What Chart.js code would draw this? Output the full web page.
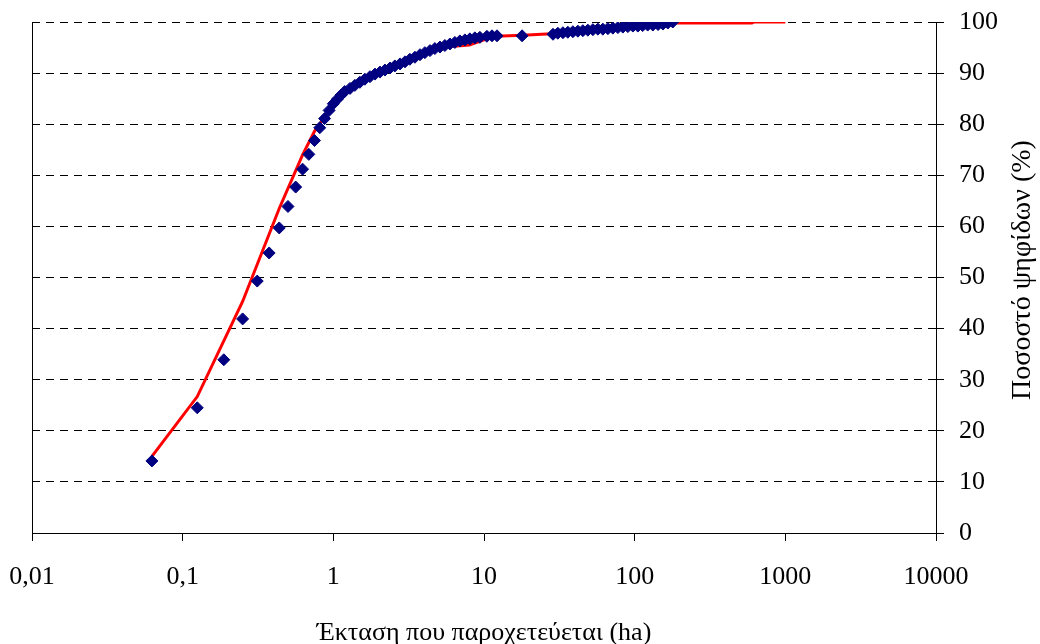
<!DOCTYPE html>
<html>
<head>
<meta charset="utf-8">
<script src="https://cdn.jsdelivr.net/npm/chart.js@4.4.0/dist/chart.umd.min.js"></script>
<style>
    body { margin: 0; background: #fff; }
    #wrap { width: 1040px; height: 644px; }
</style>
</head>
<body>
<div id="wrap"><canvas id="myChart" width="1040" height="644"></canvas></div>
<script>
// Measured points (blue diamonds): area in ha vs cumulative percent
const pointArea = [
    0.0625, 0.125, 0.1875, 0.25, 0.3125, 0.375, 0.4375, 0.5, 0.5625, 0.625,
    0.6875, 0.75, 0.8125, 0.875, 0.9375, 1.0, 1.0625, 1.125, 1.19, 1.29,
    1.39, 1.5, 1.62, 1.75, 1.89, 2.04, 2.2, 2.38, 2.56, 2.77,
    2.99, 3.22, 3.48, 3.76, 4.05, 4.38, 4.72, 5.1, 5.5, 5.94,
    6.41, 6.92, 7.47, 8.06, 8.7, 9.39, 10.45, 11.3, 12.2, 17.9,
    28.7, 30.9, 33.4, 36.0, 38.9, 42.0, 45.3, 48.9, 52.8, 57.0,
    61.5, 66.4, 71.7, 77.4, 83.5, 90.1, 97.3, 105, 113, 122,
    132, 143, 154, 166, 179
];
const pointPercent = [
    14.1, 24.5, 33.9, 41.9, 49.3, 54.8, 59.7, 63.9, 67.7, 71.2,
    74.1, 76.8, 79.3, 81.1, 82.7, 84.0, 84.9, 85.7, 86.4, 87.0,
    87.6, 88.2, 88.8, 89.3, 89.8, 90.2, 90.6, 91.0, 91.4, 91.8,
    92.2, 92.7, 93.1, 93.6, 94.0, 94.4, 94.8, 95.1, 95.4, 95.7,
    96.0, 96.3, 96.5, 96.7, 96.9, 97.0, 97.2, 97.3, 97.3, 97.3,
    97.6, 97.8, 97.9, 98.0, 98.1, 98.2, 98.3, 98.4, 98.5, 98.6,
    98.6, 98.7, 98.8, 98.9, 99.0, 99.1, 99.2, 99.2, 99.3, 99.4,
    99.4, 99.5, 99.6, 99.8, 100.0
];

// Red curve
const lineArea = [0.0625, 0.125, 0.25, 0.4375, 0.625, 0.75, 0.875, 1, 1.25, 1.5,
    2, 2.5, 3, 4, 5, 6, 8, 10, 12, 18, 28, 50, 100, 180, 600, 620, 1000];
const linePercent = [15.0, 26.7, 45.3, 63.5, 74.0, 78.6, 81.4, 83.8, 86.6, 88.0,
    90.0, 91.2, 92.1, 93.8, 94.8, 95.2, 95.5, 96.5, 97.2, 97.4, 97.7, 98.3, 99.0, 99.8, 99.8, 100, 100];

const xTickValues = [0.01, 0.1, 1, 10, 100, 1000, 10000];
const xTickLabels = ['0,01', '0,1', '1', '10', '100', '1000', '10000'];

const xTitle = 'Έκταση που παροχετεύεται (ha)';
const yTitle = 'Ποσοστό ψηφίδων (%)';

const FONT = '"Liberation Serif", "Times New Roman", serif';

// y title reads bottom-to-top, Chart.js right-axis titles read the other way
const yTitlePlugin = {
    id: 'yTitle',
    afterDraw(chart) {
        const ctx = chart.ctx;
        ctx.save();
        ctx.translate(1023, 270);
        ctx.rotate(-Math.PI / 2);
        ctx.font = '28px ' + FONT;
        ctx.fillStyle = '#000';
        ctx.textAlign = 'center';
        ctx.textBaseline = 'middle';
        ctx.fillText(yTitle, 0, 0);
        ctx.restore();
    }
};

// stop tick label overflow from pushing the plot area in
function noPadding(scale) {
    scale.paddingLeft = 0;
    scale.paddingRight = 0;
    scale.paddingTop = 0;
    scale.paddingBottom = 0;
}

const ctx = document.getElementById('myChart').getContext('2d');
new Chart(ctx, {
    type: 'scatter',
    data: {
        datasets: [{
            label: 'points',
            data: pointArea.map((a, i) => ({ x: a, y: pointPercent[i] })),
            showLine: false,
            pointStyle: 'rectRot',
            pointRadius: 6,
            pointBorderWidth: 1,
            pointBackgroundColor: '#000080',
            pointBorderColor: '#000080'
        }, {
            label: 'curve',
            data: lineArea.map((a, i) => ({ x: a, y: linePercent[i] })),
            showLine: true,
            borderColor: '#ff0000',
            borderWidth: 3,
            pointRadius: 0,
            tension: 0
        }]
    },
    options: {
        responsive: false,
        animation: false,
        devicePixelRatio: 1,
        layout: { padding: { left: 32, top: 22, right: 0, bottom: 0 } },
        plugins: {
            legend: { display: false },
            tooltip: { enabled: false }
        },
        scales: {
            x: {
                type: 'logarithmic',
                min: 0.01,
                max: 10000,
                afterBuildTicks: scale => {
                    scale.ticks = xTickValues.map(v => ({ value: v }));
                },
                afterFit: scale => {
                    scale.height = 111;
                    noPadding(scale);
                },
                ticks: {
                    autoSkip: false,
                    maxRotation: 0,
                    padding: 21,
                    color: '#000',
                    font: { family: FONT, size: 26 },
                    callback: (value) => {
                        const i = xTickValues.indexOf(value);
                        return i >= 0 ? xTickLabels[i] : '';
                    }
                },
                grid: {
                    color: c => (c.tick && c.tick.value === 0.01) ? '#000' : 'rgba(0,0,0,0)',
                    tickColor: '#000',
                    tickLength: 8,
                    lineWidth: 1
                },
                border: { display: true, color: '#000', width: 1 },
                title: {
                    display: true,
                    text: xTitle,
                    color: '#000',
                    font: { family: FONT, size: 26 },
                    padding: { top: 0, bottom: -5 }
                }
            },
            y: {
                position: 'right',
                min: 0,
                max: 100,
                afterFit: scale => {
                    scale.width = 104;
                    noPadding(scale);
                },
                ticks: {
                    stepSize: 10,
                    padding: 15,
                    color: '#000',
                    font: { family: FONT, size: 26 }
                },
                grid: {
                    color: c => (c.tick && c.tick.value === 0) ? 'rgba(0,0,0,0)' : '#000',
                    tickColor: '#000',
                    tickLength: 8,
                    lineWidth: 1
                },
                border: { display: true, color: '#000', width: 1, dash: [8, 6] }
            }
        }
    },
    plugins: [yTitlePlugin]
});
</script>
</body>
</html>
